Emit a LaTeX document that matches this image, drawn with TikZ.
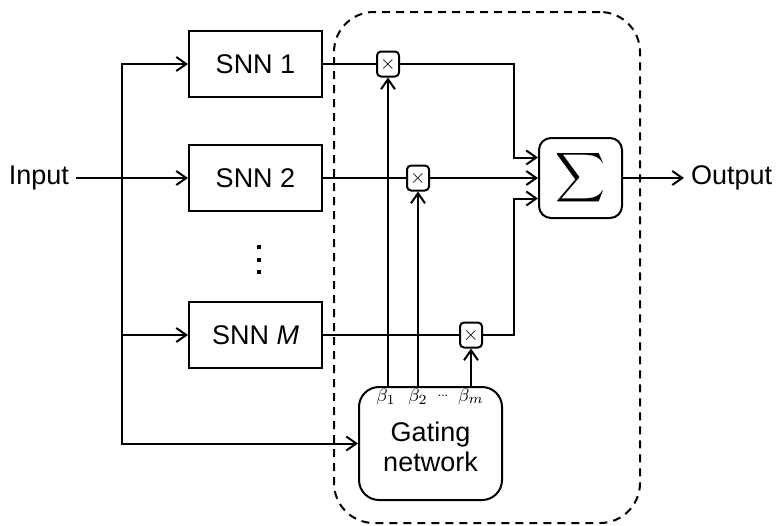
\documentclass[tikz,border=0pt]{standalone}
\usepackage{fontspec}
\setmainfont{Liberation Sans}
\usepackage{amsmath}
\usetikzlibrary{arrows.meta, positioning, calc}

\begin{document}
\begin{tikzpicture}[x=0.5pt, y=-0.5pt,
        font=\fontsize{13.5}{15}\selectfont,
        >={Straight Barb[length=5pt, width=7pt]},
        block/.style={rectangle, draw, line width=1pt, minimum width=66.5pt, minimum height=33pt, inner sep=0pt},
        mul/.style={rectangle, draw, rounded corners=2pt, line width=1pt, minimum width=11pt, minimum height=12.5pt, inner sep=0pt, font=\fontsize{10}{10}\selectfont},
        beta/.style={inner sep=1.5pt, font=\fontsize{9.5}{10}\selectfont},
        wire/.style={line width=1pt},
        node distance=1cm]
        \useasboundingbox (0,0) rectangle (779,525);

        % experts
        \node[block] (snn2) at (255.5,178) {SNN 2};
        \node[block] (snn1) [above = 23pt of snn2] {SNN 1};
        \node[block] (snnm) [below = 44.5pt of snn2] {SNN \textit{M}};
        \foreach \y in {247,260,272}
            \fill (256.8,\y-2.3) rectangle ++(4.6,4.6);

        \node[anchor=east] (inp) at (76,178) {Input};
        \coordinate (split) at (122,178);

        % combiner
        \node[block, rounded corners=6pt, minimum width=41.5pt, minimum height=40pt, font=\fontsize{17}{17}\selectfont] (sum) [right = 107.5pt of snn2] {$\displaystyle\sum$};
        \node[anchor=west] (outp) at (684,178) {Output};

        \node[block, rounded corners=10pt, minimum width=71.5pt, minimum height=56.5pt, align=center, text depth=0pt] (gate) at (430.5,443.5) {\\[-2pt]Gating\\network};

        \node[mul] (mul1) at (388,0 |- snn1) {$\times$};
        \node[mul] (mul2) at (418,0 |- snn2) {$\times$};
        \node[mul] (mul3) at (471,0 |- snnm) {$\times$};

        \node[beta, anchor=north] (b1) at ([xshift=-1pt]gate.north -| mul1) {$\beta_1$};
        \node[beta, anchor=north] (b2) at (gate.north -| mul2) {$\beta_2$};
        \node[beta, anchor=north] (bm) at (gate.north -| mul3) {$\beta_m$};
        \node[beta, anchor=north, font=\fontsize{6}{6}\selectfont, yshift=-3pt] (bdots) at ($(b2.north)!0.47!(bm.north)$) {...};

        \node[draw, dash pattern=on 4pt off 3pt, line width=1pt, rounded corners=20pt, minimum width=153pt, minimum height=255.5pt, inner sep=0pt] (moe) at (487,267.5) {};

        % input fan-out
        \draw[wire, ->] (inp.east) -- (snn2.west);
        \draw[wire, ->] (split) |- (snn1.west);
        \draw[wire, ->] (split) |- (snnm.west);
        \draw[wire, ->] (split) |- (gate.west);

        % gated outputs
        \coordinate (in1) at ($(sum.west)!0.5!(sum.north west)$);
        \coordinate (in3) at ($(sum.west)!0.5!(sum.south west)$);
        \draw[wire] (snn1.east) -- (mul1.west);
        \draw[wire] (snn2.east) -- (mul2.west);
        \draw[wire] (snnm.east) -- (mul3.west);
        \draw[wire, ->] (mul1.east) -| ([xshift=-12pt]in1) -- (in1);
        \draw[wire, ->] (mul2.east) -- (sum.west);
        \draw[wire, ->] (mul3.east) -| ([xshift=-12pt]in3) -- (in3);
        \draw[wire, ->] (sum.east) -- (outp.west);

        % gate weights
        \draw[wire, ->] (gate.north -| mul1) -- (mul1.south);
        \draw[wire, ->] (gate.north -| mul2) -- (mul2.south);
        \draw[wire, ->] (gate.north -| mul3) -- (mul3.south);
\end{tikzpicture}
\end{document}
